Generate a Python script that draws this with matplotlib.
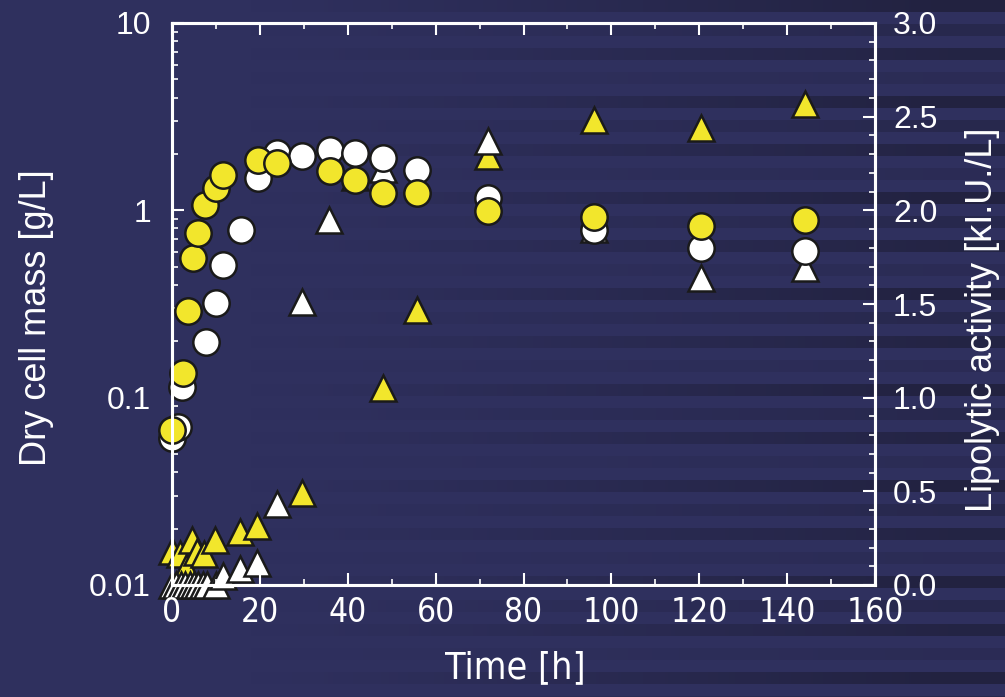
import matplotlib
matplotlib.use('Agg')
import matplotlib.pyplot as plt
import numpy as np
from matplotlib.ticker import MultipleLocator, LogLocator, NullFormatter, FormatStrFormatter

# dry cell mass [g/L] (left, log axis)
wc_t = [0, 1.4, 2.3, 7.7, 10, 11.6, 15.7, 19.6, 24, 29.6, 36, 41.6, 48, 55.7, 72, 96, 120.4, 144]
wc_v = [0.061, 0.070, 0.114, 0.198, 0.32, 0.51, 0.79, 1.49, 2.02, 1.95, 2.1, 2.02, 1.9, 1.64, 1.16, 0.79, 0.63, 0.61]
yc_t = [0, 2.5, 3.7, 4.8, 6, 7.5, 10, 11.6, 19.6, 24, 36, 41.6, 48, 55.7, 72, 96, 120.4, 144]
yc_v = [0.067, 0.135, 0.29, 0.56, 0.76, 1.07, 1.32, 1.55, 1.86, 1.79, 1.62, 1.45, 1.24, 1.24, 0.99, 0.92, 0.82, 0.89]

# lipolytic activity [kI.U./L] (right axis)
wt_t = [0, 1, 2, 3, 4, 5, 6, 7, 8, 10, 11.6, 15.5, 19.4, 23.9, 29.6, 35.7, 41.6, 48, 72, 96, 120.4, 144]
wt_v = [0.0, 0.0, 0.0, 0.0, 0.0, 0.0, 0.0, 0.0, 0.0, 0.0, 0.05, 0.083, 0.12, 0.435, 1.51, 1.95, 2.18, 2.22, 2.37, 1.9, 1.64, 1.69]
yt_t = [0, 1.8, 3.2, 4.5, 5.7, 7.3, 9.8, 15.5, 19.4, 29.6, 48, 55.7, 72, 96, 120.4, 144]
yt_v = [0.184, 0.167, 0.09, 0.238, 0.176, 0.167, 0.238, 0.283, 0.315, 0.489, 1.05, 1.47, 2.29, 2.48, 2.44, 2.57]

W, H = 1005, 697
navy = np.array([47, 48, 94]) / 255
dark = np.array([34, 34, 64]) / 255
yellow = '#f2e62c'
edge = '#1a1a1a'
reg = 'Liberation Sans'
cond = 'DejaVu Sans'

fig = plt.figure(figsize=(W / 100, H / 100), dpi=100)

# striped backdrop, fading in towards the right
rows = np.arange(H)
pattern = np.array([1.0, 0.0, 0.55, 0.0, 0.85, 0.0, 0.3, 0.0])
shade = pattern[(rows // 12) % len(pattern)]
fade = np.clip((np.arange(W) - 250) / 700, 0, 1) ** 1.2
mix = shade[:, None, None] * fade[None, :, None]
img = navy * (1 - mix) + dark * mix
bg = fig.add_axes([0, 0, 1, 1], zorder=-1)
bg.imshow(img, aspect='auto', interpolation='nearest')
bg.axis('off')

ax = fig.add_axes([172 / W, 1 - 585 / H, (875 - 172) / W, (585 - 23) / H])
ax2 = ax.twinx()
ax.set_zorder(ax2.get_zorder() + 1)
ax.patch.set_visible(False)
ax2.patch.set_visible(False)

mk = dict(linestyle='none', mec=edge, mew=1.8, clip_on=False)
ax2.plot(yt_t, yt_v, marker='^', ms=19, mfc=yellow, **mk)
ax2.plot(wt_t, wt_v, marker='^', ms=19, mfc='white', **mk)
ax.plot(wc_t, wc_v, marker='o', ms=19, mfc='white', **mk)
ax.plot(yc_t, yc_v, marker='o', ms=19, mfc=yellow, **mk)

ax.set_xlim(0, 160)
ax.set_yscale('log')
ax.set_ylim(0.01, 10)
ax.set_yticks([0.01, 0.1, 1, 10])
ax.set_yticklabels(['0.01', '0.1', '1', '10'])
ax.yaxis.set_minor_locator(LogLocator(base=10, subs=np.arange(2, 10)))
ax.yaxis.set_minor_formatter(NullFormatter())
ax.xaxis.set_major_locator(MultipleLocator(20))
ax.xaxis.set_minor_locator(MultipleLocator(10))

ax2.set_ylim(0, 3)
ax2.yaxis.set_major_locator(MultipleLocator(0.5))
ax2.yaxis.set_minor_locator(MultipleLocator(0.1))
ax2.yaxis.set_major_formatter(FormatStrFormatter('%.1f'))

for a in (ax, ax2):
    for s in a.spines.values():
        s.set_color('white')
        s.set_linewidth(2.2)
    a.tick_params(which='both', direction='in', colors='white')
    a.tick_params(which='major', length=8.5, width=1.5)
    a.tick_params(which='minor', length=4, width=1.2)

ax.tick_params(axis='x', which='both', top=True, bottom=True)
ax.tick_params(axis='x', labelsize=24, pad=8)
ax.tick_params(axis='y', which='both', left=True, right=False)
ax.tick_params(axis='y', labelsize=23, labelfontfamily=reg, pad=15)
ax2.tick_params(axis='y', which='both', right=True, left=False)
ax2.tick_params(axis='y', labelsize=23, labelfontfamily=reg, pad=13)
ax2.tick_params(axis='x', which='both', bottom=False, top=False, labelbottom=False)

fig.canvas.draw()
for lbl in ax.get_xticklabels():
    lbl.set_family(cond)
    lbl.set_fontstretch('condensed')

fig.text(37 / W, 1 - 318 / H, 'Dry cell mass [g/L]', rotation=90, ha='center', va='center',
         fontsize=26, color='white', family=reg)
fig.text(982 / W, 1 - 320 / H, 'Lipolytic activity [kI.U./L]', rotation=90, ha='center', va='center',
         fontsize=26, color='white', family=reg)
fig.text(515 / W, 1 - 668 / H, 'Time [h]', ha='center', va='center',
         fontsize=27, color='white', family=cond, fontstretch='condensed')

fig.savefig('out.png', dpi=100)
